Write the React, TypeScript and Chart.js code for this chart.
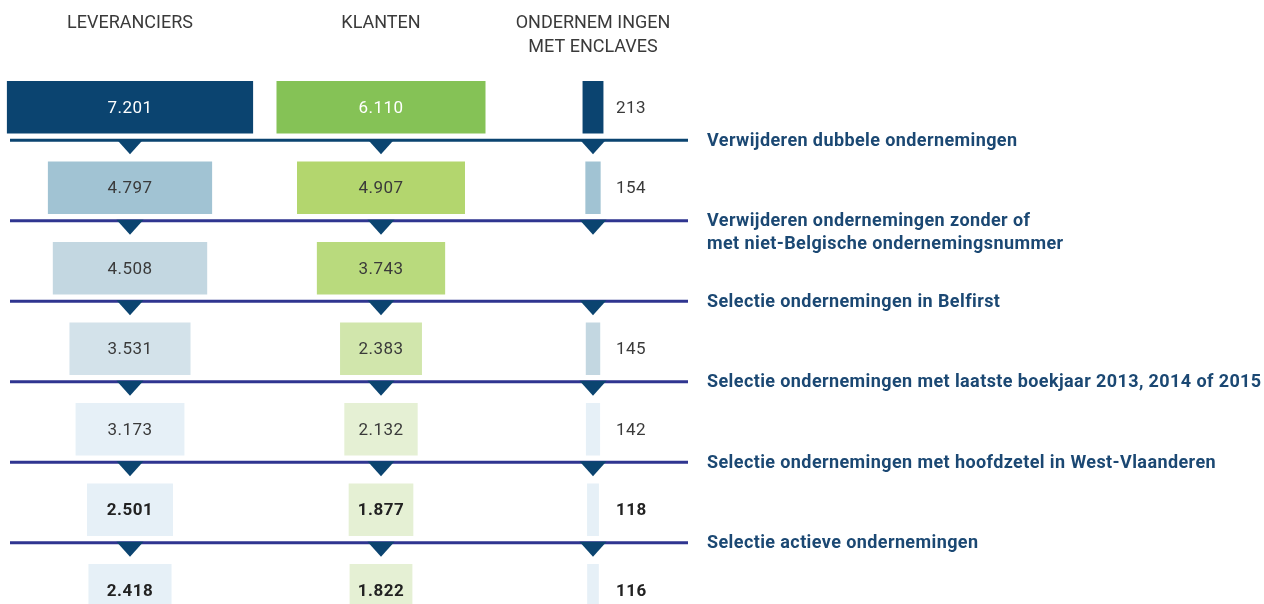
import React, { useEffect, useRef } from 'react';
import { Chart, registerables } from 'chart.js';

Chart.register(...registerables);

// ---- data ----
const rowKeys = ['start', 'dubbel', 'nummer', 'belfirst', 'boekjaar', 'westvl', 'actief'];
const leveranciers = [7201, 4797, 4508, 3531, 3173, 2501, 2418];
const klanten = [6110, 4907, 3743, 2383, 2132, 1877, 1822];
const enclaves: (number | null)[] = [213, 154, null, 145, 142, 118, 116];
const columnHeaders = [['LEVERANCIERS'], ['KLANTEN'], ['ONDERNEM INGEN', 'MET ENCLAVES']];
const stepLabels = [
  ['Verwijderen dubbele ondernemingen'],
  ['Verwijderen ondernemingen zonder of', 'met niet-Belgische ondernemingsnummer'],
  ['Selectie ondernemingen in Belfirst'],
  ['Selectie ondernemingen met laatste boekjaar 2013, 2014 of 2015'],
  ['Selectie ondernemingen met hoofdzetel in West-Vlaanderen'],
  ['Selectie actieve ondernemingen'],
];
const boldRows = [5, 6];

// ---- styles ----
const levColors = ['#0b4470', '#a1c3d3', '#c3d7e1', '#d3e2ea', '#e6f0f7', '#e6f0f7', '#e6f0f7'];
const klColors = ['#85c256', '#b3d66e', '#b9da7d', '#d1e6ac', '#e5f0d4', '#e5f0d4', '#e5f0d4'];
const encColors = ['#0b4470', '#a1c3d3', '#c3d7e1', '#c3d7e1', '#e6f0f7', '#e6f0f7', '#e6f0f7'];
const NAVY = '#0b4470';
const INDIGO = '#2f3590';
const LABEL_BLUE = '#1b4873';
const FONT = 'Roboto, "Noto Sans", sans-serif';

const W = 1264;
const H = 640;
const CENTERS = [130, 381, 593];
const SCALE_MAIN = 0.0341; // px per unit
const SCALE_ENC = 0.095;

const fmt = (v: number) => {
  const s = String(Math.round(v));
  return s.replace(/\B(?=(\d{3})+(?!\d))/g, '.');
};

const axisFor = (center: number, s: number) => ({
  type: 'linear' as const,
  display: false,
  min: -center / s,
  max: (W - center) / s,
});

const decorPlugin = {
  id: 'funnelDecor',
  afterDatasetsDraw(chart: any) {
    const ctx = chart.ctx as CanvasRenderingContext2D;
    const y = chart.scales.y;
    const axes = [chart.scales.xL, chart.scales.xK, chart.scales.xE];
    const cx = axes.map((a: any) => a.getPixelForValue(0));
    ctx.save();

    // headers
    ctx.fillStyle = '#3a3a3a';
    ctx.font = `18px ${FONT}`;
    ctx.textAlign = 'center';
    ctx.textBaseline = 'middle';
    columnHeaders.forEach((lines, c) => {
      lines.forEach((t, k) => ctx.fillText(t, cx[c], 23 + k * 24));
    });

    // separator lines, triangles, step labels
    stepLabels.forEach((lines, i) => {
      const ly = y.getPixelForValue(i) + 33;
      ctx.fillStyle = i === 0 ? NAVY : INDIGO;
      ctx.fillRect(10, ly - 1.5, 678, 3);
      ctx.fillStyle = NAVY;
      cx.forEach((x: number) => {
        ctx.beginPath();
        ctx.moveTo(x - 13.5, ly - 1);
        ctx.lineTo(x + 13.5, ly - 1);
        ctx.lineTo(x, ly + 14);
        ctx.closePath();
        ctx.fill();
      });
      ctx.fillStyle = LABEL_BLUE;
      ctx.font = `bold 18px ${FONT}`;
      (ctx as any).letterSpacing = '0.4px';
      ctx.textAlign = 'left';
      ctx.textBaseline = 'middle';
      lines.forEach((t, k) => ctx.fillText(t, 707, ly + 1 + k * 23));
    });

    // value labels
    (ctx as any).letterSpacing = '0.5px';
    ctx.textBaseline = 'middle';
    [0, 1].forEach((d) => {
      const meta = chart.getDatasetMeta(d);
      const vals = d === 0 ? leveranciers : klanten;
      meta.data.forEach((el: any, j: number) => {
        const bold = boldRows.includes(j);
        ctx.font = `${bold ? 'bold ' : ''}17px ${FONT}`;
        ctx.fillStyle = j === 0 ? '#ffffff' : bold ? '#222222' : '#3a3a3a';
        ctx.textAlign = 'center';
        ctx.fillText(fmt(vals[j]), (el.x + el.base) / 2, el.y + 1);
      });
    });
    const metaE = chart.getDatasetMeta(2);
    metaE.data.forEach((el: any, j: number) => {
      const v = enclaves[j];
      if (v == null) return;
      const bold = boldRows.includes(j);
      ctx.font = `${bold ? 'bold ' : ''}17px ${FONT}`;
      ctx.fillStyle = bold ? '#222222' : '#3a3a3a';
      ctx.textAlign = 'left';
      ctx.fillText(fmt(v), cx[2] + 23, el.y + 1);
    });
    ctx.restore();
  },
};

export default function App() {
  const ref = useRef<HTMLCanvasElement>(null);
  useEffect(() => {
    document.body.style.margin = '0';
    const half = (v: number | null) => (v == null ? null : [-v / 2, v / 2]);
    const chart = new Chart(ref.current!, {
      type: 'bar',
      data: {
        labels: rowKeys,
        datasets: [
          { label: 'Leveranciers', data: leveranciers.map(half) as any, backgroundColor: levColors, xAxisID: 'xL', yAxisID: 'y' },
          { label: 'Klanten', data: klanten.map(half) as any, backgroundColor: klColors, xAxisID: 'xK', yAxisID: 'y' },
          { label: 'Ondernemingen met enclaves', data: enclaves.map(half) as any, backgroundColor: encColors, xAxisID: 'xE', yAxisID: 'y' },
        ],
      },
      options: {
        indexAxis: 'y',
        responsive: false,
        animation: false,
        grouped: false,
        barThickness: 52,
        borderSkipped: false,
        layout: { padding: { top: 67, bottom: 9.5, left: 0, right: 0 } },
        scales: {
          y: { type: 'category', display: false, offset: true },
          xL: axisFor(CENTERS[0], SCALE_MAIN),
          xK: axisFor(CENTERS[1], SCALE_MAIN),
          xE: axisFor(CENTERS[2], SCALE_ENC),
        },
        plugins: { legend: { display: false }, tooltip: { enabled: false } },
      } as any,
      plugins: [decorPlugin],
    });
    return () => chart.destroy();
  }, []);
  return (
    <div style={{ position: 'fixed', left: 0, top: 0, width: W, height: 604, overflow: 'hidden', background: '#fff' }}>
      <canvas ref={ref} width={W} height={H} style={{ display: 'block', width: W, height: H }} />
    </div>
  );
}
